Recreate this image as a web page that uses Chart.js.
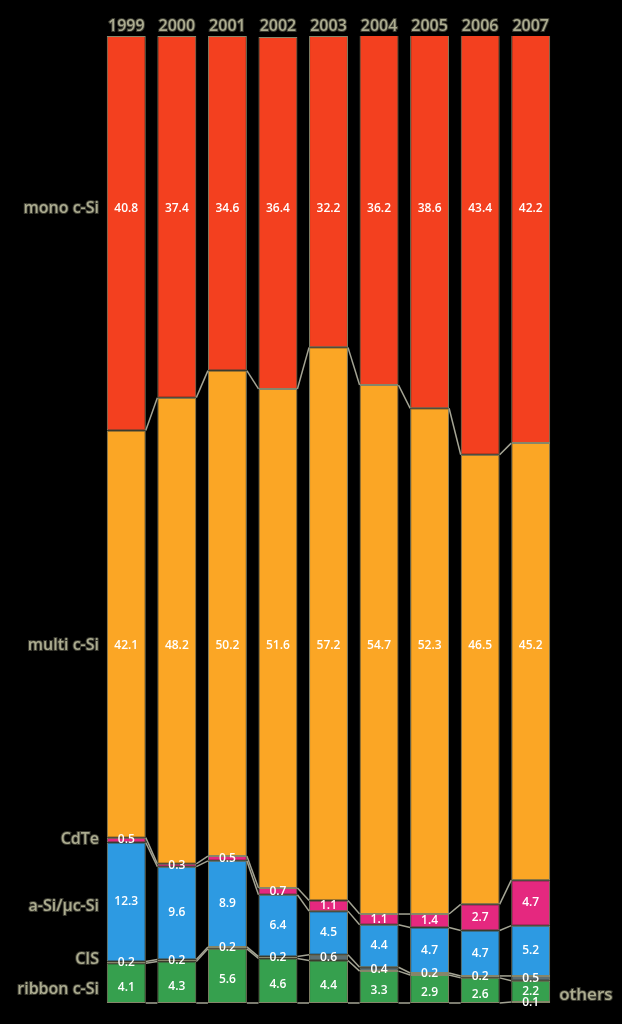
<!DOCTYPE html>
<html>
<head>
<meta charset="utf-8">
<script src="https://cdn.jsdelivr.net/npm/chart.js@4/dist/chart.umd.min.js"></script>
<style>
  html, body { margin: 0; padding: 0; background: #000; }
  canvas { display: block; }
</style>
</head>
<body>
<canvas id="chart" width="622" height="1024"></canvas>
<script>
/* PV-Technologien: Marktanteile 1999-2007 (gestapelte Säulen, %) */
const years = ['1999', '2000', '2001', '2002', '2003', '2004', '2005', '2006', '2007'];

// von unten nach oben gestapelt
const others  = [null, null, null, null, null, null, null, null, 0.1];
const ribbon  = [4.1, 4.3, 5.6, 4.6, 4.4, 3.3, 2.9, 2.6, 2.2];
const cis     = [0.2, 0.2, 0.2, 0.2, 0.6, 0.4, 0.2, 0.2, 0.5];
const aSi     = [12.3, 9.6, 8.9, 6.4, 4.5, 4.4, 4.7, 4.7, 5.2];
const cdte    = [0.5, 0.3, 0.5, 0.7, 1.1, 1.1, 1.4, 2.7, 4.7];
const multiSi = [42.1, 48.2, 50.2, 51.6, 57.2, 54.7, 52.3, 46.5, 45.2];
const monoSi  = [40.8, 37.4, 34.6, 36.4, 32.2, 36.2, 38.6, 43.4, 42.2];

// Beschriftung links: Text + Höhe in Achsenwerten
const sideLabels = ['mono c-Si', 'multi c-Si', 'CdTe', 'a-Si/\u00b5c-Si', 'CIS', 'ribbon c-Si'];
const sideLabelAt = [82.2, 37.0, 16.9, 10.0, 4.5, 1.4];

const olive = '#acac90';
const edge = '#86866a';

const datasets = [
  { label: 'others', data: others, backgroundColor: '#8d9393' },
  { label: 'ribbon c-Si', data: ribbon, backgroundColor: '#36a04e', nudge: 4 },
  { label: 'CIS', data: cis, backgroundColor: '#5d6f73' },
  { label: 'a-Si/\u00b5c-Si', data: aSi, backgroundColor: '#2d9ae2' },
  { label: 'CdTe', data: cdte, backgroundColor: '#e5287f' },
  { label: 'multi c-Si', data: multiSi, backgroundColor: '#fba625', row: 37.0 },
  { label: 'mono c-Si', data: monoSi, backgroundColor: '#f3401f', row: 82.2 },
].map(d => Object.assign(d, { borderColor: edge, borderWidth: 1, borderSkipped: false }));

const decorPlugin = {
  id: 'decor',
  beforeDatasetsDraw(chart) {
    // Verbindungslinien zwischen den Segmentgrenzen benachbarter Säulen
    const { ctx } = chart;
    const y = chart.scales.y;
    ctx.save();
    ctx.strokeStyle = '#a4a494';
    ctx.lineWidth = 1.5;
    const n = years.length;
    const cum = new Array(n).fill(0);
    for (let k = 0; k < datasets.length - 1; k++) {
      datasets[k].data.forEach((v, i) => { cum[i] += v || 0; });
      if (cum.every(c => c === 0)) continue;
      const bars = chart.getDatasetMeta(k).data;
      for (let i = 0; i < n - 1; i++) {
        const a = bars[i], b = bars[i + 1];
        ctx.beginPath();
        ctx.moveTo(a.x + a.width / 2, y.getPixelForValue(cum[i]));
        ctx.lineTo(b.x - b.width / 2, y.getPixelForValue(cum[i + 1]));
        ctx.stroke();
      }
    }
    ctx.restore();
  },
  afterDatasetsDraw(chart) {
    const { ctx, chartArea } = chart;
    const y = chart.scales.y;
    const x = chart.scales.x;
    ctx.save();

    // Werte in den Segmenten
    ctx.fillStyle = '#ffffff';
    ctx.textAlign = 'center';
    ctx.textBaseline = 'middle';
    ctx.font = '600 12px "Open Sans", sans-serif';
    datasets.forEach((ds, k) => {
      const bars = chart.getDatasetMeta(k).data;
      ds.data.forEach((v, i) => {
        if (v == null) return;
        const bar = bars[i];
        let ty = ds.row != null ? y.getPixelForValue(ds.row) : (bar.y + bar.base) / 2;
        if (ds.nudge && !(others[i] > 0)) ty += ds.nudge;
        ctx.fillText(v.toFixed(1), bar.x, ty);
      });
    });

    // Jahre oben
    ctx.font = '600 16px "Open Sans", sans-serif';
    ctx.lineWidth = 2;
    ctx.strokeStyle = '#3a3a30';
    ctx.fillStyle = olive;
    ctx.textBaseline = 'alphabetic';
    years.forEach((yr, i) => {
      const px = x.getPixelForValue(i);
      ctx.strokeText(yr, px, 31);
      ctx.fillText(yr, px, 31);
    });

    // Technologien links
    ctx.font = '600 16px "Open Sans", sans-serif';
    ctx.textAlign = 'right';
    ctx.textBaseline = 'middle';
    sideLabels.forEach((t, i) => {
      const py = y.getPixelForValue(sideLabelAt[i]);
      ctx.strokeText(t, chartArea.left - 2, py);
      ctx.fillText(t, chartArea.left - 2, py);
    });

    // others rechts unten
    ctx.textAlign = 'left';
    ctx.font = '600 17px "Open Sans", sans-serif';
    const last = chart.getDatasetMeta(0).data[years.length - 1];
    const ox = last.x + last.width / 2 + 9;
    const oy = y.getPixelForValue(0.8);
    ctx.strokeText('others', ox, oy);
    ctx.fillText('others', ox, oy);
    ctx.restore();
  }
};

new Chart(document.getElementById('chart'), {
  type: 'bar',
  data: { labels: years, datasets },
  options: {
    responsive: false,
    animation: false,
    devicePixelRatio: 1,
    layout: { padding: { left: 101, right: 66, top: 36, bottom: 21 } },
    datasets: { bar: { barPercentage: 0.77, categoryPercentage: 1 } },
    plugins: { legend: { display: false }, tooltip: { enabled: false } },
    scales: {
      x: { stacked: true, display: false },
      y: { stacked: true, display: false, min: 0, max: 100 }
    }
  },
  plugins: [decorPlugin]
});
</script>
</body>
</html>
